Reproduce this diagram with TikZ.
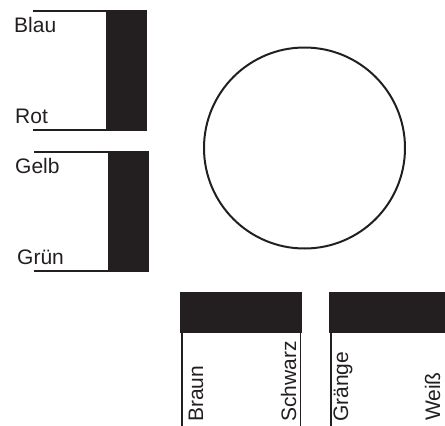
\documentclass[tikz,border=0pt]{standalone}
\usepackage{fontspec}
\setmainfont{Liberation Sans}
\definecolor{ink}{HTML}{231F20}
\begin{document}
\begin{tikzpicture}[x=1pt,y=1pt,
  wire/.style={draw=ink,line width=1.5pt},
  bar/.style={fill=ink},
  lbl/.style={inner sep=0pt,anchor=base west,text=ink,font=\fontsize{21}{24}\selectfont},
  vlbl/.style={lbl,rotate=90}]
\useasboundingbox (0,0) rectangle (445,-426);
% top-left block
\fill[bar] (106,-10) rectangle (147,-131);
\draw[wire] (33,-11) -- (107,-11);
\draw[wire] (33,-130) -- (107,-130);
\node[lbl] (blau) at (14,-32) {Blau};
\node[lbl] (rot) at (15,-123) {Rot};
% second left block
\fill[bar] (108,-151) rectangle (149,-272);
\draw[wire] (34,-152) -- (109,-152);
\draw[wire] (34,-271) -- (109,-271);
\node[lbl] (gelb) at (15,-173) {Gelb};
\node[lbl] (gruen) at (17,-264) {Grün};
% circle
\draw[draw=ink,line width=2pt] (304.5,-148) circle (100.5);
% bottom blocks
\fill[bar] (180,-292) rectangle (302,-333);
\draw[wire] (182,-332) -- (182,-426);
\draw[wire] (300.5,-332) -- (300.5,-426);
\fill[bar] (329,-292) rectangle (445,-333);
\draw[wire] (331,-332) -- (331,-426);
\node[vlbl] (braun) at (203,-422) {Braun};
\node[vlbl] (schwarz) at (296,-422) {Schwarz};
\node[vlbl] (graenge) at (348,-422) {Gränge};
\node[vlbl,text depth=0pt] (weiss) at (440,-421) {Weiß};
\end{tikzpicture}
\end{document}
